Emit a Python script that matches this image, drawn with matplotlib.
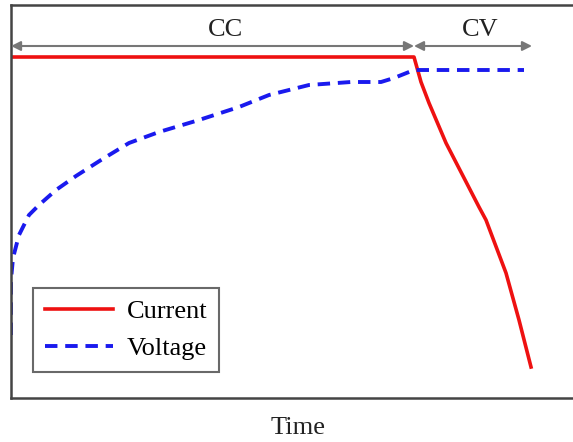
import matplotlib
matplotlib.use('Agg')
import matplotlib.pyplot as plt

# values (arbitrary time / level units)
cur_t = [0, 403, 410, 418, 435, 468, 475, 495, 508, 520]
cur_v = [341, 341, 316, 295, 255, 191, 178, 125, 78, 31]

volt_t = [0, 0, 2, 8, 18, 28, 45, 65, 90, 118, 148, 188, 228, 258, 298,
          340, 370, 383, 403, 513]
volt_v = [63, 118, 140, 163, 183, 193, 208, 222, 238, 255, 266, 278, 291,
          303, 313, 316, 316, 320, 328, 328]

phase_names = ['CC', 'CV']
phase_edges = [0, 403, 521]

plt.rcParams['font.family'] = ['Liberation Serif', 'DejaVu Serif']

fig = plt.figure(figsize=(5.73, 4.42), dpi=100)
ax = fig.add_axes([11 / 573, 44 / 442, 1.0, 393 / 442])

ax.plot(cur_t, cur_v, color='#ee1111', lw=2.6, label='Current')
ax.plot(volt_t, volt_v, color='#1a1aee', lw=2.8, ls=(0, (3.2, 2)), label='Voltage')

ax.set_xlim(0, 573)
ax.set_ylim(0, 393)

# phase arrows and labels (labels sit a bit off-centre in the original)
label_shift = [13, 7]
for i, name in enumerate(phase_names):
    x0, x1 = phase_edges[i], phase_edges[i + 1]
    ax.annotate('', xy=(x1, 352), xytext=(x0, 352),
                arrowprops=dict(arrowstyle='<|-|>', color='#777777', lw=1.5,
                                mutation_scale=14, shrinkA=0, shrinkB=0))
    ax.text((x0 + x1) / 2 + label_shift[i], 368, name, ha='center', va='center',
            fontsize=19, color='#222222')

ax.set_xticks([])
ax.set_yticks([])
for s in ['left', 'top', 'bottom']:
    ax.spines[s].set_color('#444444')
    ax.spines[s].set_linewidth(1.8)
ax.spines['right'].set_visible(False)

ax.set_xlabel('Time', fontsize=19, labelpad=14, color='#222222')
ax.xaxis.label.set_x((298 - 11) / 573)

leg = ax.legend(loc='lower left', bbox_to_anchor=(22 / 573, 26 / 393),
                borderaxespad=0, fontsize=19, frameon=True, fancybox=False,
                handlelength=2.6, borderpad=0.45, labelspacing=0.5,
                handletextpad=0.5)
leg.get_frame().set_edgecolor('#444444')
leg.get_frame().set_linewidth(1.5)

fig.savefig('out.png', dpi=100)
